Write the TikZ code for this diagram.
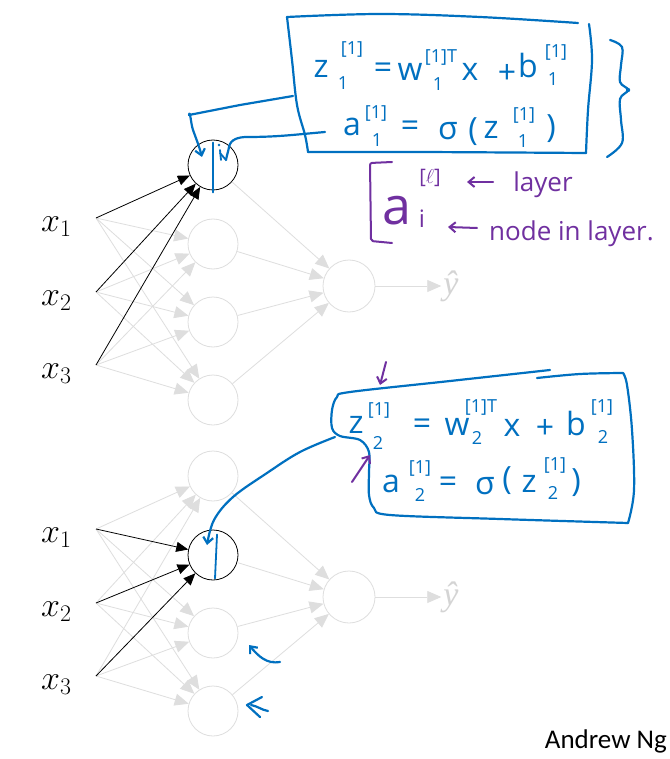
\RequirePackage{fix-cm}
\documentclass[tikz,border=0pt]{standalone}
\usepackage{fontspec}
\newfontfamily\calibri{Carlito}
\newfontfamily\hand{Open Sans}
\newfontfamily\seriffont{Liberation Serif}
\usetikzlibrary{arrows.meta,calc}
\definecolor{inkblue}{HTML}{0070C0}
\definecolor{inkpurple}{HTML}{7030A0}
\definecolor{lightedge}{HTML}{DEDEDE}
\definecolor{hatgrey}{HTML}{D4D4D4}
\begin{document}
\begin{tikzpicture}[x=1pt,y=-1pt,
  neuron/.style={circle,draw=lightedge,line width=0.8pt,minimum size=50pt,inner sep=0pt},
  active/.style={circle,draw=black,line width=0.8pt,minimum size=50pt,inner sep=0pt},
  gedge/.style={draw=lightedge,line width=0.8pt,-{Triangle[length=14pt,width=12pt]}},
  bedge/.style={draw=black,line width=0.8pt,-{Triangle[length=12pt,width=10pt]}},
  xlab/.style={font=\fontsize{34}{36}\selectfont,anchor=base west,inner sep=0pt},
  ink/.style={draw=inkblue,line width=2.2pt,line cap=round,line join=round},
  inkp/.style={draw=inkpurple,line width=2pt,line cap=round,line join=round},
  barb/.style={-{Straight Barb[length=6pt,width=10pt]}},
  eqm/.style={text=inkblue,font=\hand\fontsize{32}{34}\selectfont,inner sep=0pt},
  eqs/.style={text=inkblue,font=\hand\fontsize{18}{20}\selectfont,inner sep=0pt},
  ptext/.style={text=inkpurple,font=\hand\fontsize{26}{28}\selectfont,inner sep=0pt},
]
\useasboundingbox (0,0) rectangle (669,759);
\fill[white] (0,0) rectangle (669,759);

% ---------------- two networks ----------------
\foreach \p/\dy/\act in {t/0/1,b/311/2}{
  \foreach \i/\y in {1/218,2/292,3/365}{
    \coordinate (\p x\i) at (96,{\y+\dy});
    \node[xlab] (\p xl\i) at (41,{\y+\dy+13}) {$x_{\i}$};
  }
  \foreach \h/\y in {1/165,2/244,3/322,4/400}{
    \ifnum\h=\act
      \node[active] (\p h\h) at (213,{\y+\dy}) {};
    \else
      \node[neuron] (\p h\h) at (213,{\y+\dy}) {};
    \fi
  }
  \node[neuron,minimum size=52pt] (\p o) at (349,{286+\dy}) {};
  \node[font=\seriffont\itshape\fontsize{34}{36}\selectfont,text=hatgrey,inner sep=2pt] (\p y) at (451,{286+\dy}) {ŷ};
  \foreach \i in {1,2,3}{
    \foreach \h in {1,2,3,4}{
      \ifnum\h=\act\else
        \draw[gedge] (\p x\i) -- (\p h\h);
      \fi
    }
  }
  \foreach \h in {1,2,3,4}{\draw[gedge] (\p h\h) -- (\p o);}
  \draw[gedge] (\p o) -- (\p y);
  \foreach \i in {1,2,3}{\draw[bedge] (\p x\i) -- (\p h\act);}
}

% ---------------- top annotation box ----------------
\draw[ink] plot[smooth,tension=0.6] coordinates {(578,23)(480,17)(380,14)(287,17)};
\draw[ink] plot[smooth,tension=0.6] coordinates {(287,17)(292,60)(297,105)(305,135)(308,152)};
\draw[ink] plot[smooth,tension=0.6] coordinates {(308,152)(420,152)(586,153)};
\draw[ink] plot[smooth,tension=0.6] coordinates {(586,153)(588,110)(592,60)(589,24)};

% equations, hand-placed pieces
\foreach \t/\x/\y [count=\k] in {
  {z}/321/69, {=}/383/71, {w}/410/72, {x}/470/72, {+}/507/74, {b}/528/66,
  {a}/352/127, {=}/410/129, {σ}/448/131, {(}/473/132, {z}/491/130, {)}/551/129,
  {z}/356/425, {=}/422/427, {w}/457/427, {x}/512/428, {+}/545/429, {b}/576/423,
  {a}/391/484, {=}/448/485, {σ}/485/486, {(}/507/481, {z}/529/484, {)}/576/483}{
  \node[eqm] (em\k) at (\x,\y) {\t};
}
\foreach \t/\x/\y [count=\k] in {
  {[1]}/352/50, {1}/343/83, {[1]T}/441/58, {1}/438/84, {[1]}/556/53, {1}/553/79,
  {[1]}/376/114, {1}/377/140, {[1]}/524/116, {1}/523/141,
  {[1]}/379/410, {2}/378/443, {[1]T}/481/407, {2}/477/438, {[1]}/602/407, {2}/603/437,
  {[1]}/420/468, {2}/420/495, {[1]}/555/465, {2}/553/493}{
  \node[eqs] (es\k) at (\x,\y) {\t};
}

% brace
\draw[ink] plot[smooth,tension=0.6] coordinates {(610,40)(622,47)(621,65)(620,82)(628,90)(620,99)(621,120)(622,143)(607,157)};
\fill[inkblue] (628,90) circle (2.2);

% connectors from top box into top node
\coordinate (c1) at (293,96);
\coordinate (c2) at (325,132);
\draw[ink,barb] (c1) -- (240,105) -- (189,115) to[out=80,in=110] (193,130) to[out=-70,in=105] ($(th1.center)+(-11,-8)$);
\draw[ink] (c2) to[out=185,in=0] (247,137) to[out=180,in=80] (229,147) to[out=-100,in=80] ($(th1.center)+(13,-5)$);
\draw[ink,line width=1.8pt] ($(th1.center)+(13,-5)$) -- ($(th1.center)+(7,-12)$);
\draw[ink,line width=1.8pt] ($(th1.north)+(0,3)$) -- ($(th1.south)+(0,2)$);
\fill[inkblue] (219,145) circle (1.4);
\draw[ink,line width=1.8pt] (220,150) -- (221,160);

% ---------------- purple notation ----------------
\draw[inkp,rounded corners=2pt] (392,162) -- (370,163) -- (371,241) -- (392,243);
\node[ptext,font=\hand\fontsize{52}{52}\selectfont] (pa) at (397,211) {a};
\node[ptext,font=\hand\fontsize{20}{22}\selectfont] (pl) at (430,178) {[$\ell$]};
\node[ptext,font=\hand\fontsize{24}{26}\selectfont] (pi) at (422,219) {i};
\coordinate (pa1s) at (493,182);
\coordinate (pa1e) at (467,182);
\draw[inkp,barb] (pa1s) -- (pa1e);
\node[ptext] (play) at (543,185) {layer};
\coordinate (pa2s) at (477,228);
\coordinate (pa2e) at (448,227);
\draw[inkp,barb] (pa2s) -- (pa2e);
\node[ptext,anchor=west] (pnode) at (489,234) {node in layer.};

% ---------------- bottom annotation box ----------------
\draw[ink] plot[smooth,tension=0.55] coordinates {(550,370)(450,381)(350,392)(337,397)(332,410)(332,428)(340,436)(360,440)(369,452)(369,472)(369,495)(374,508)(390,515)(500,519)(628,523)};
\draw[ink] plot[smooth,tension=0.6] coordinates {(628,523)(634,490)(632,430)(627,385)(623,373)};
\draw[ink] plot[smooth,tension=0.6] coordinates {(623,373)(580,374)(537,378)};

% connector from bottom box into bottom node
\coordinate (c3) at (335,437);
\draw[ink,barb] plot[smooth,tension=0.6] coordinates {(c3) (300,452) (267,473) (233,497) (214,520) ($(bh2.center)+(-6,-10)$)};
\draw[ink,line width=1.8pt] ($(bh2.north)+(4,5)$) -- ($(bh2.south)+(2,-2)$);

% purple arrows
\draw[inkp,barb] (386,362) -- (380,385);
\draw[inkp,barb] (352,482) -- (370,455);

% small blue arrows near bottom nodes
\draw[ink,barb] (280,662) to[out=190,in=-50] (249,645);
\draw[ink] (262,697) -- (247,705) -- (260,717);
\draw[ink] (251,705) to[out=-10,in=170] (268,711);

% credit
\node[font=\calibri\fontsize{27}{30}\selectfont,anchor=east,inner sep=0pt] (credit) at (667,741) {Andrew Ng};
\end{tikzpicture}
\end{document}
